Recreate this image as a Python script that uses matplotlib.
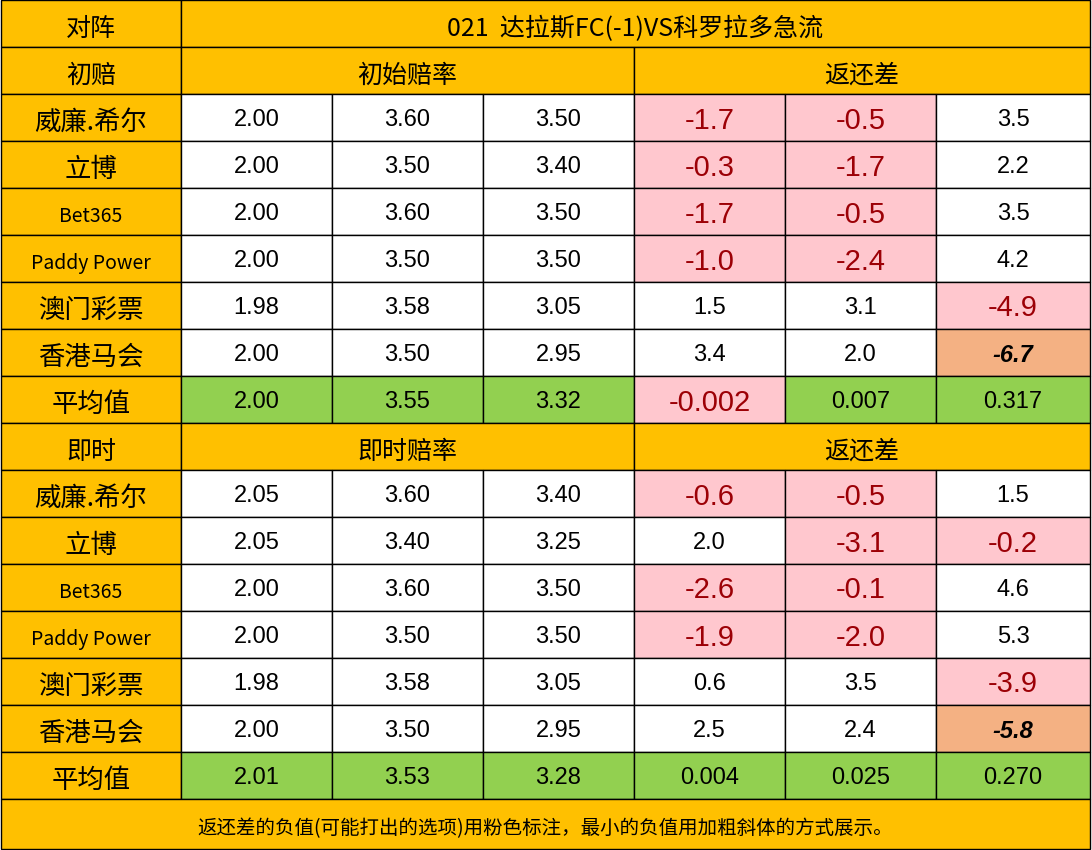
import matplotlib
matplotlib.use("Agg")
import matplotlib.pyplot as plt
from matplotlib.patches import Rectangle

title = "021  达拉斯FC(-1)VS科罗拉多急流"
companies = ["威廉.希尔", "立博", "Bet365", "Paddy Power", "澳门彩票", "香港马会"]
init_odds = [["2.00","3.60","3.50"],["2.00","3.50","3.40"],["2.00","3.60","3.50"],
             ["2.00","3.50","3.50"],["1.98","3.58","3.05"],["2.00","3.50","2.95"]]
init_diff = [["-1.7","-0.5","3.5"],["-0.3","-1.7","2.2"],["-1.7","-0.5","3.5"],
             ["-1.0","-2.4","4.2"],["1.5","3.1","-4.9"],["3.4","2.0","-6.7"]]
init_avg = ["2.00","3.55","3.32","-0.002","0.007","0.317"]
live_odds = [["2.05","3.60","3.40"],["2.05","3.40","3.25"],["2.00","3.60","3.50"],
             ["2.00","3.50","3.50"],["1.98","3.58","3.05"],["2.00","3.50","2.95"]]
live_diff = [["-0.6","-0.5","1.5"],["2.0","-3.1","-0.2"],["-2.6","-0.1","4.6"],
             ["-1.9","-2.0","5.3"],["0.6","3.5","-3.9"],["2.5","2.4","-5.8"]]
live_avg = ["2.01","3.53","3.28","0.004","0.025","0.270"]
note = "返还差的负值(可能打出的选项)用粉色标注，最小的负值用加粗斜体的方式展示。"

ORANGE = "#FFC000"; GREEN = "#92D050"; PINK = "#FFC7CE"; SALMON = "#F4B183"; DRED = "#9C0006"
FONT = "Noto Sans CJK SC"
NUM = "Liberation Sans"

W, H = 1092, 850
fig = plt.figure(figsize=(W/100, H/100), dpi=100)
ax = fig.add_axes([0, 0, 1, 1])
ax.set_xlim(0, W); ax.set_ylim(H, 0); ax.axis("off")

xs = [1, 181, 332, 483, 634, 785, 936, 1090]
rh = 47.0

def cell(x0, x1, y0, text, bg="white", color="black", size=16, weight="normal", style="normal", family=NUM, dy=0):
    ax.add_patch(Rectangle((x0, y0), x1-x0, rh, facecolor=bg, edgecolor="black", lw=1))
    ax.text((x0+x1)/2, y0+rh/2+dy, text, ha="center", va="center_baseline", fontsize=size, color=color,
            fontweight=weight, fontstyle=style, family=family)

def block(y, head, subhead, odds, diffs, avg):
    cell(xs[0], xs[1], y, head, ORANGE, size=18, family=FONT, dy=2)
    cell(xs[1], xs[4], y, subhead, ORANGE, size=18, family=FONT, dy=2)
    cell(xs[4], xs[7], y, "返还差", ORANGE, size=18, family=FONT, dy=2)
    y += rh
    for i, name in enumerate(companies):
        sz = 14 if name.isascii() else 19
        cell(xs[0], xs[1], y, name, ORANGE, size=sz, family=FONT, dy=2)
        for j in range(3):
            cell(xs[1+j], xs[2+j], y, odds[i][j], size=17)
        for j in range(3):
            v = float(diffs[i][j])
            if v < 0:
                if j == 2 and i == 5:
                    cell(xs[4+j], xs[5+j], y, diffs[i][j], SALMON, size=17, weight="bold", style="italic")
                else:
                    cell(xs[4+j], xs[5+j], y, diffs[i][j], PINK, color=DRED, size=21)
            else:
                cell(xs[4+j], xs[5+j], y, diffs[i][j], size=17)
        y += rh
    cell(xs[0], xs[1], y, "平均值", ORANGE, size=19, family=FONT, dy=2)
    for j in range(6):
        if float(avg[j]) < 0:
            cell(xs[1+j], xs[2+j], y, avg[j], PINK, color=DRED, size=21)
        else:
            cell(xs[1+j], xs[2+j], y, avg[j], GREEN, size=17)
    return y + rh

cell(xs[0], xs[1], 0, "对阵", ORANGE, size=18, family=FONT, dy=2)
cell(xs[1], xs[7], 0, title, ORANGE, size=18, family=FONT, dy=2)
y = block(rh, "初赔", "初始赔率", init_odds, init_diff, init_avg)
y = block(y, "即时", "即时赔率", live_odds, live_diff, live_avg)
ax.add_patch(Rectangle((xs[0], y), xs[7]-xs[0], H-1-y, facecolor=ORANGE, edgecolor="black", lw=1))
ax.text((xs[0]+xs[7])/2, (y+H)/2+2, note, ha="center", va="center_baseline", fontsize=14, family=FONT)

fig.savefig("out.png", dpi=100)
